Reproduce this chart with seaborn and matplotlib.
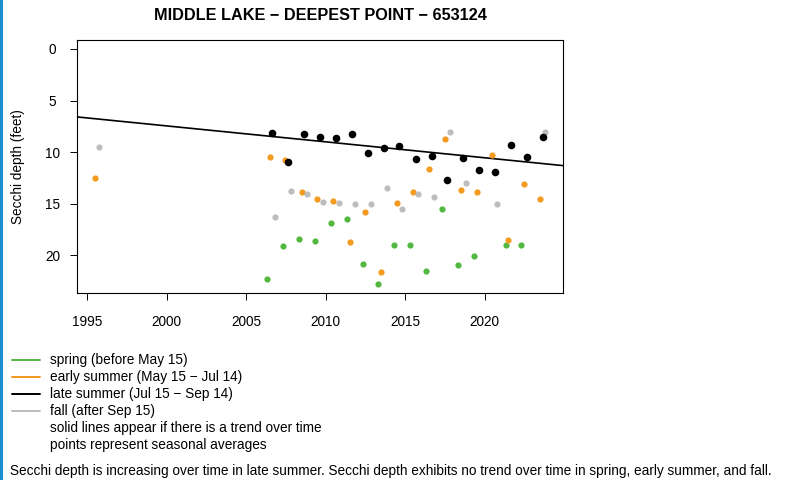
import matplotlib
matplotlib.use("Agg")
import matplotlib.pyplot as plt
from matplotlib.lines import Line2D
import numpy as np
import pandas as pd
import seaborn as sns

# seasonal averages (decimal year, secchi depth in feet)
spring_year = [2006.30, 2007.33, 2008.33, 2009.32, 2010.32, 2011.31, 2012.34, 2013.30,
               2014.31, 2015.29, 2016.32, 2017.33, 2018.31, 2019.32, 2021.31, 2022.30]
spring_depth = [22.3, 19.05, 18.4, 18.65, 16.9, 16.5, 20.85, 22.75,
                19.0, 19.0, 21.5, 15.5, 20.95, 20.05, 19.0, 19.0]

early_year = [1995.50, 2006.48, 2007.47, 2008.48, 2009.48, 2010.47, 2011.50, 2012.48,
              2013.49, 2014.47, 2015.48, 2016.48, 2017.47, 2018.48, 2019.48, 2020.47,
              2021.45, 2022.48, 2023.47]
early_depth = [12.5, 10.45, 10.75, 13.9, 14.5, 14.75, 18.75, 15.8,
               21.65, 14.9, 13.9, 11.65, 8.7, 13.65, 13.9, 10.25,
               18.5, 13.05, 14.55]

late_year = [2006.65, 2007.64, 2008.65, 2009.65, 2010.66, 2011.64, 2012.65, 2013.64,
             2014.60, 2015.65, 2016.65, 2017.64, 2018.65, 2019.63, 2020.64, 2021.62,
             2022.63, 2023.64]
late_depth = [8.15, 11.0, 8.25, 8.55, 8.6, 8.25, 10.05, 9.55,
              9.4, 10.7, 10.35, 12.7, 10.6, 11.75, 11.9, 9.35,
              10.5, 8.5]

fall_year = [1995.73, 2006.82, 2007.79, 2008.83, 2009.80, 2010.82, 2011.83, 2012.82,
             2013.82, 2014.81, 2015.82, 2016.80, 2017.80, 2018.81, 2020.79, 2023.78]
fall_depth = [9.5, 16.3, 13.75, 14.1, 14.8, 14.9, 15.0, 15.0,
              13.5, 15.5, 14.05, 14.3, 8.0, 13.0, 15.0, 8.0]

# late summer trend line
trend_at_2010 = 9.0
trend_slope = 0.1545

season_labels = ["spring (before May 15)", "early summer (May 15 \u2212 Jul 14)",
                 "late summer (Jul 15 \u2212 Sep 14)", "fall (after Sep 15)"]
note_labels = ["solid lines appear if there is a trend over time",
               "points represent seasonal averages"]
xticks = [1995, 2000, 2005, 2010, 2015, 2020]
yticks = [0, 5, 10, 15, 20]

GREEN = "#52b840"
ORANGE = "#f39a1f"
BLACK = "#000000"
GRAY = "#bdbdbd"
FS = 9.85

sns.set_style("white")
plt.rcParams['font.family'] = ['Liberation Sans', 'DejaVu Sans']
plt.rcParams['text.color'] = 'black'
plt.rcParams['axes.labelcolor'] = 'black'
plt.rcParams['xtick.color'] = 'black'
plt.rcParams['ytick.color'] = 'black'

W, H = 788, 480
fig = plt.figure(figsize=(W / 100, H / 100), dpi=100)
ax = fig.add_axes([77 / W, 1 - 293 / H, (563 - 77) / W, (293 - 40) / H])

frames = [
    (pd.DataFrame({"year": spring_year, "depth": spring_depth}), GREEN, 20),
    (pd.DataFrame({"year": early_year, "depth": early_depth}), ORANGE, 20),
    (pd.DataFrame({"year": fall_year, "depth": fall_depth}), GRAY, 20),
    (pd.DataFrame({"year": late_year, "depth": late_depth}), BLACK, 30),
]
for df, col, size in frames:
    sns.scatterplot(data=df, x="year", y="depth", ax=ax, color=col, s=size,
                    linewidth=0, legend=False, zorder=3)

all_years = spring_year + early_year + late_year + fall_year
x0, x1 = min(all_years), max(all_years)
pad = (x1 - x0) * 0.04
ax.set_xlim(x0 - pad, x1 + pad)
ax.set_ylim(23.65, -0.87)

xs = np.array(ax.get_xlim())
ax.plot(xs, trend_at_2010 + trend_slope * (xs - 2010), color="black", lw=1.2, zorder=2)

ax.set_xticks(xticks)
ax.set_yticks(yticks)
ax.tick_params(axis="both", direction="out", length=5, width=0.7, color="black",
               labelcolor="black", labelsize=FS, left=True, bottom=True)
ax.tick_params(axis="x", pad=11)
ax.tick_params(axis="y", pad=12.5)
for lab in ax.get_yticklabels():
    lab.set_horizontalalignment("center")
for sp in ax.spines.values():
    sp.set_color("black")
    sp.set_linewidth(0.8)
ax.set_xlabel("")
ax.set_ylabel("Secchi depth (feet)", fontsize=FS, color="black")
ax.yaxis.set_label_coords(-(77 - 25) / (563 - 77), 0.5)

fig.text(320 / W, 1 - 16 / H, "MIDDLE LAKE \u2212 DEEPEST POINT \u2212 653124",
         ha="center", va="center", fontsize=11.7, fontweight="bold", color="black")

# legend block below the plot
row_y = [360, 377.3, 394.3, 411, 428, 445]
for i, (lab, col) in enumerate(zip(season_labels, [GREEN, ORANGE, BLACK, GRAY])):
    y = 1 - row_y[i] / H
    fig.add_artist(Line2D([12 / W, 40 / W], [y, y], transform=fig.transFigure,
                          color=col, lw=1.4))
    fig.text(50 / W, y, lab, ha="left", va="center", fontsize=FS, color="black")
for j, lab in enumerate(note_labels):
    fig.text(50 / W, 1 - row_y[4 + j] / H, lab, ha="left", va="center", fontsize=FS,
             color="black")

fig.text(10 / W, 1 - 471.5 / H,
         "Secchi depth is increasing over time in late summer. Secchi depth exhibits no trend "
         "over time in spring, early summer, and fall.",
         ha="left", va="center", fontsize=FS, color="black")

# blue edge of the page
fig.add_artist(Line2D([1 / W, 1 / W], [0, 1], transform=fig.transFigure,
                      color="#1a8fd0", lw=2.2))

fig.savefig("out.png", dpi=100)
